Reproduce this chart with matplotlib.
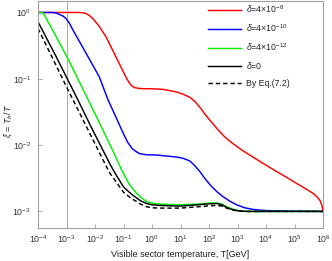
import numpy as np
import matplotlib
matplotlib.use("Agg")
import matplotlib.pyplot as plt

plt.rcParams['font.family'] = ['Liberation Sans', 'DejaVu Sans']
plt.rcParams['mathtext.fontset'] = 'custom'
plt.rcParams['mathtext.rm'] = 'Liberation Sans'
plt.rcParams['mathtext.it'] = 'Liberation Sans:italic'
plt.rcParams['mathtext.sf'] = 'Liberation Sans'

# ---- data (log10 T  and  log10 xi) ----
red_logT = [-4, -3, -2.55, -2.45, -2.32, -2.2, -2.08, -1.85, -1.61, -1.38, -1.15, -0.91, -0.8,
            -0.7, -0.6, -0.45, -0.3, 0.0, 0.4, 0.87, 1.1, 1.33, 1.5, 1.68, 1.85, 2.04, 2.2,
            2.4, 2.6, 2.85, 3.1, 3.32, 3.8, 4.26, 4.7, 5.08, 5.4, 5.66, 5.8, 5.9, 5.96, 6.0]
red_logxi = [0, 0, 0, -0.003, -0.015, -0.045, -0.09, -0.21, -0.37, -0.57, -0.77, -0.98, -1.06,
             -1.11, -1.135, -1.145, -1.15, -1.15, -1.16, -1.20, -1.235, -1.28, -1.34, -1.43, -1.53,
             -1.63, -1.71, -1.81, -1.895, -1.98, -2.06, -2.12, -2.25, -2.37, -2.48, -2.58, -2.66,
             -2.73, -2.785, -2.84, -2.91, -2.99]

blue_logT = [-4, -3.48, -3.35, -3.25, -3.12, -3.02, -2.9, -2.78, -2.32, -1.85, -1.55, -1.0, -0.85,
             -0.7, -0.55, -0.42, -0.2, 0.16, 0.87, 1.1, 1.33, 1.5, 1.68, 1.85, 2.04, 2.27, 2.5,
             2.75, 2.97, 3.25, 3.55, 3.9, 4.26, 6.0]
blue_logxi = [0, 0, -0.01, -0.03, -0.055, -0.09, -0.16, -0.26, -0.61, -0.97, -1.31, -1.83, -1.96,
              -2.05, -2.10, -2.13, -2.145, -2.15, -2.18, -2.20, -2.24, -2.31, -2.40, -2.50, -2.60,
              -2.70, -2.78, -2.85, -2.90, -2.945, -2.97, -2.985, -2.99, -3.0]

green_logT = [-4, -3.84, -3.76, -3.65, -3.48, -2.9, -2.26, -1.76, -1.36, -1.06, -0.8, -0.54,
              -0.35, -0.19, 0.0, 0.28, 0.98, 1.6, 2.0, 2.27, 2.45, 2.62, 2.8, 3.0, 3.2, 3.4, 6.0]
green_logxi = [0, 0, -0.05, -0.14, -0.27, -0.74, -1.30, -1.74, -2.10, -2.38, -2.59, -2.73,
               -2.80, -2.85, -2.875, -2.89, -2.90, -2.89, -2.875, -2.872, -2.89, -2.93, -2.96,
               -2.985, -2.997, -3.0, -3.0]

black_logT = [-4, -3.37, -2.61, -2.12, -1.47, -1.3, -1.0, -0.8, -0.66, -0.4, -0.19, 0.0, 0.28,
              0.98, 1.6, 2.0, 2.3, 2.45, 2.62, 2.8, 3.0, 3.2, 3.4, 6.0]
black_logxi = [-0.14, -0.66, -1.31, -1.74, -2.29, -2.42, -2.63, -2.71, -2.76, -2.84, -2.88,
               -2.90, -2.91, -2.92, -2.90, -2.885, -2.882, -2.90, -2.94, -2.97, -2.99, -2.998,
               -3.0, -3.0]

eq_logT = [-4, -3.0, -2.0, -1.5, -1.3, -1.0, -0.8, -0.66, -0.4, -0.19, 0.0, 0.28, 1.0, 1.6,
           2.0, 2.3, 2.45, 2.62, 2.8, 3.0, 3.2, 3.4, 6.0]
eq_logxi = [-0.24, -1.12, -1.98, -2.41, -2.53, -2.71, -2.78, -2.82, -2.89, -2.93, -2.945,
            -2.95, -2.95, -2.93, -2.915, -2.91, -2.92, -2.95, -2.975, -2.992, -2.999, -3.0, -3.0]

labels = [r'$\delta$=4$\times$10$^{-8}$', r'$\delta$=4$\times$10$^{-10}$',
          r'$\delta$=4$\times$10$^{-12}$', r'$\delta$=0', 'By Eq.(7.2)']
vline_T = 1e-3

fig = plt.figure(figsize=(3.32, 2.61), dpi=100)
ax = fig.add_axes([38/332, 1 - 228/261, 285/332, 227/261])

def pw(a):
    return np.power(10.0, np.asarray(a, dtype=float))

ax.axvline(vline_T, color='#f28c8c', lw=0.7, zorder=1)
lw = 1.05
ax.plot(pw(red_logT), pw(red_logxi), color='#ff0000', lw=lw, label=labels[0])
ax.plot(pw(blue_logT), pw(blue_logxi), color='#0000ff', lw=lw, label=labels[1])
ax.plot(pw(green_logT), pw(green_logxi), color='#00f000', lw=lw, label=labels[2])
ax.plot(pw(black_logT), pw(black_logxi), color='black', lw=lw, label=labels[3])
ax.plot(pw(eq_logT), pw(eq_logxi), color='black', lw=lw, ls=(0, (3, 2)), label=labels[4])

ax.set_xscale('log')
ax.set_yscale('log')
ax.set_xlim(1e-4, 1e6)
ax.set_ylim(10**-3.25, 10**0.173)
ax.set_xticks([10.0**k for k in range(-4, 7)])
ax.set_yticks([1e-3, 1e-2, 1e-1, 1e0])
ax.minorticks_off()

for s in ax.spines.values():
    s.set_color('#a0a0a0')
    s.set_linewidth(0.8)
ax.tick_params(direction='in', length=3, width=0.6, color='#a0a0a0',
               labelsize=6.3, labelcolor='#333333')
ax.tick_params(axis='x', pad=4)
ax.tick_params(axis='y', pad=5)

ax.set_xlabel('Visible sector temperature, T[GeV]', fontsize=6.5, color='#222222')
ax.xaxis.set_label_coords(0.498, -0.095)
ax.set_ylabel(r'$\xi$ = $T_h$/$T$', fontsize=6.5, color='#222222')
ax.yaxis.set_label_coords(-0.083, 0.47)

leg = ax.legend(loc='upper left', bbox_to_anchor=(208/332, 1 - 3/261),
                bbox_transform=fig.transFigure, frameon=False, fontsize=6.3,
                handlelength=3.8, handletextpad=0.55, labelspacing=0.85,
                borderpad=0, borderaxespad=0)
for t in leg.get_texts():
    t.set_color('#222222')

fig.savefig('out.png', dpi=100)
